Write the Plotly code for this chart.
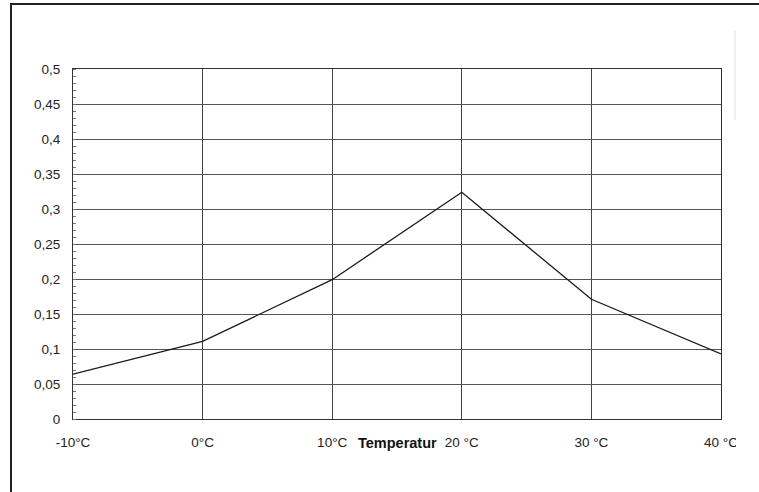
import plotly.graph_objects as go

temps = [-10, 0, 10, 20, 30, 40]
values = [0.064, 0.111, 0.199, 0.324, 0.171, 0.093]
x_tick_labels = ["-10°C", "0°C", "10°C", "20 °C", "30 °C", "40 °C"]
y_tick_vals = [0, 0.05, 0.1, 0.15, 0.2, 0.25, 0.3, 0.35, 0.4, 0.45, 0.5]
y_tick_labels = ["0", "0,05", "0,1", "0,15", "0,2", "0,25", "0,3", "0,35", "0,4", "0,45", "0,5"]
axis_title = "Temperatur"

W, H = 759, 492
# plot area in page pixels
PL, PR, PT, PB = 73, 721, 69, 419
L, R, T, B = PL, W - PR, PT, H - PB
pw, ph = W - L - R, H - T - B


def px(x):  # page x -> paper
    return (x - PL) / pw


def py(y):  # page y -> paper
    return (PB - y) / ph


fig = go.Figure()
fig.add_trace(go.Scatter(
    x=temps, y=values, mode="lines",
    line=dict(color="#1a1a1a", width=1.3),
    showlegend=False, hoverinfo="skip",
))

font = dict(family="Liberation Sans, Arial, sans-serif", size=13.5, color="#222222")

fig.update_layout(
    width=W, height=H,
    margin=dict(l=L, r=R, t=T, b=B),
    paper_bgcolor="white", plot_bgcolor="white",
    font=font,
    xaxis=dict(
        range=[-10, 40], tickvals=temps, ticktext=x_tick_labels,
        showgrid=True, gridcolor="#444444", gridwidth=1,
        showline=True, linecolor="#333333", linewidth=1, mirror=True,
        zeroline=False, ticks="", ticklabelstandoff=11, tickfont=font,
    ),
    yaxis=dict(
        range=[0, 0.5], tickvals=y_tick_vals, ticktext=y_tick_labels,
        showgrid=True, gridcolor="#555555", gridwidth=1,
        showline=True, linecolor="#333333", linewidth=1, mirror=True,
        zeroline=False, ticks="", ticklabelstandoff=9, tickfont=font,
        minor=dict(ticks="inside", ticklen=3, tickcolor="#777777", dtick=0.01, showgrid=False),
    ),
    annotations=[dict(
        x=15, y=0, xref="x", yref="y", yshift=-24,
        text="<b>" + axis_title + "</b>", showarrow=False,
        font=dict(family="Liberation Sans, Arial, sans-serif", size=14.5, color="#111111"),
    )],
    shapes=[
        # outer frame (top and left visible, rest outside the page)
        dict(type="rect", xref="paper", yref="paper", layer="below",
             x0=px(11), x1=px(W + 10), y0=py(4), y1=py(H + 10),
             line=dict(color="#222222", width=2), fillcolor="rgba(0,0,0,0)"),
        # faint scan edge
        dict(type="line", xref="paper", yref="paper",
             x0=px(735), x1=px(735), y0=py(31), y1=py(120),
             line=dict(color="#dddddd", width=1)),
        # crop of the last label
        dict(type="rect", xref="paper", yref="paper", layer="above",
             x0=px(736), x1=px(W + 5), y0=py(460), y1=py(428),
             fillcolor="white", line=dict(width=0)),
    ],
)

fig.write_html(
    "out.html",
    config={"displayModeBar": False},
    post_script="document.body.style.margin='0';document.body.style.overflow='hidden';",
)
